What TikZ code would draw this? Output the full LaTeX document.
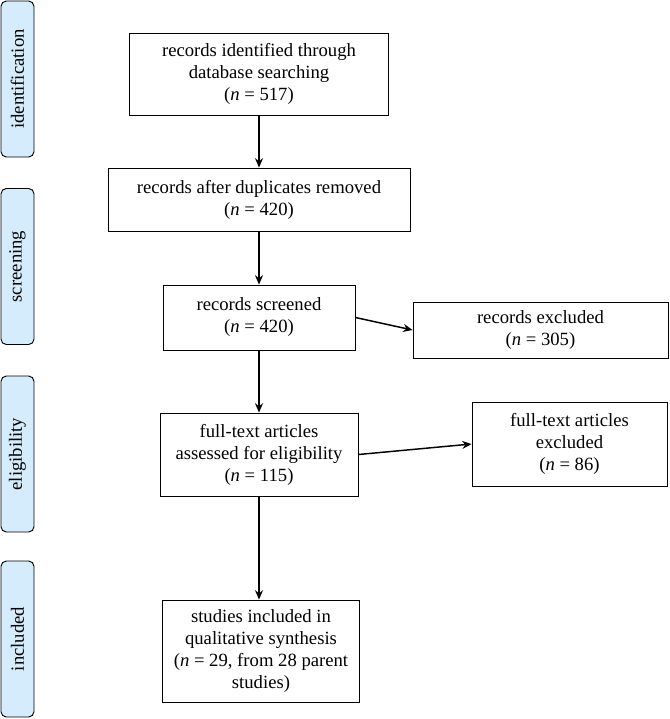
\documentclass[tikz,border=0pt]{standalone}
\usepackage{fontspec}
\setmainfont{Liberation Serif}
\usepackage{tikz}
\usetikzlibrary{shapes.geometric, arrows, arrows.meta, calc, positioning}
\definecolor{stageblue}{RGB}{212,236,251}
\tikzstyle{block} = [rectangle, line width=0.7pt, align=center, text centered, draw=black, font=\fontsize{14}{16.5}\selectfont]
\tikzstyle{stage} = [rectangle, rounded corners=4pt, line width=0.7pt, draw=black, fill=stageblue, rotate=90, minimum width=117pt, minimum height=24.75pt, font=\fontsize{14}{16.5}\selectfont]
\tikzstyle{arrow} = [line width=1.1pt,->,>={Stealth[length=7pt,width=6pt]}]
\begin{document}
\begin{tikzpicture}[x=0.75pt, y=-0.75pt]
	\useasboundingbox (0,0) rectangle (670,719);
	% stages
	\node (StageIdent) [stage] at (17.5,79) {identification};
	\node (StageScreen) [stage] at (17.5,266.5) {screening};
	\node (StageElig) [stage] at (17.5,454) {eligibility};
	\node (StageIncl) [stage] at (17.5,639) {included};
	% main column
	\node (Identified) [block, minimum width=194.25pt, minimum height=61.5pt] at (259,74) {records identified through\\database searching\\(\textit{n} = 517)};
	\node (Duplicates) [block, minimum width=226.5pt, minimum height=47.25pt] at (259,199.5) {records after duplicates removed\\(\textit{n} = 420)};
	\node (Screened) [block, minimum width=144pt, minimum height=48.75pt] at (259,317.5) {records screened\\(\textit{n} = 420)};
	\node (Assessed) [block, minimum width=148.5pt, minimum height=62.25pt] at (259,454.5) {full-text articles\\assessed for eligibility\\(\textit{n} = 115)};
	\node (Synthesis) [block, minimum width=147.75pt, minimum height=76.5pt] at (261,651) {studies included in\\qualitative synthesis\\(\textit{n} = 29, from 28 parent\\studies)};
	% exclusions
	\node (RecExcluded) [block, minimum width=191.25pt, minimum height=42pt] at (540.5,330) {records excluded\\(\textit{n} = 305)};
	\node (FullExcluded) [block, minimum width=146.25pt, minimum height=63pt] at (569.5,444) {full-text articles\\excluded\\(\textit{n} = 86)};
	\draw [arrow] (Identified) -- (Duplicates);
	\draw [arrow] (Duplicates) -- (Screened);
	\draw [arrow] (Screened) -- (Assessed);
	\draw [arrow] (Assessed.south) -- (Assessed.south |- Synthesis.north);
	\draw [arrow] (Screened.east) -- (RecExcluded.west);
	\draw [arrow] (Assessed.east) -- (FullExcluded.west);
\end{tikzpicture}
\end{document}
